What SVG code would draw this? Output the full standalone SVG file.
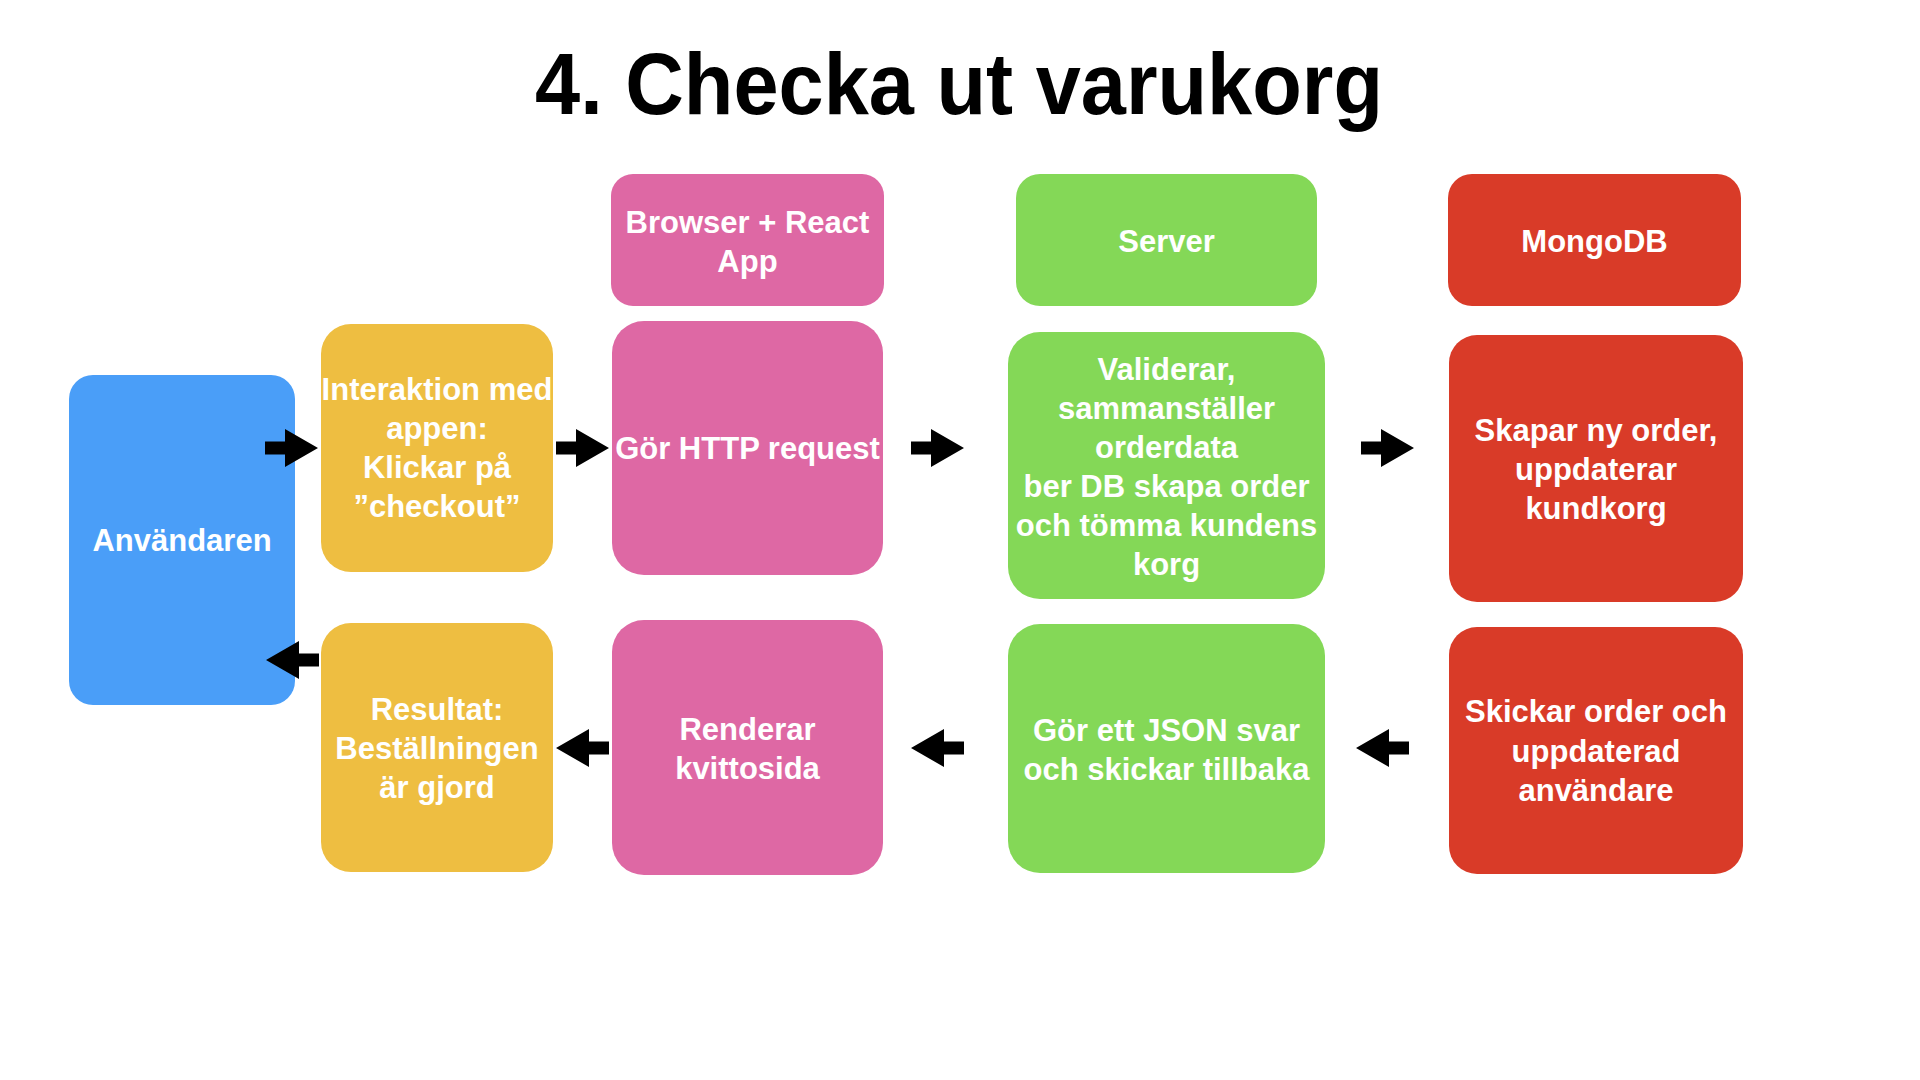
<svg xmlns="http://www.w3.org/2000/svg" xmlns:xlink="http://www.w3.org/1999/xlink" width="1920" height="1080" viewBox="0 0 1920 1080">
  <style>
    .title { font-family: "Liberation Sans", Arial, Helvetica, sans-serif; font-weight: bold; font-size: 87px; fill: #000; }
    .label { font-family: "Liberation Sans", Arial, Helvetica, sans-serif; font-weight: bold; font-size: 31px; fill: #fff; text-anchor: middle; }
    .user { fill: #4a9ef8; }
    .ui { fill: #eebe41; }
    .app { fill: #de68a4; }
    .srv { fill: #84d857; }
    .db { fill: #d93b28; }
    .arrow { fill: #000; }
  </style>
  <defs>
    <!-- block arrow pointing right, tip at origin -->
    <polygon id="arrow-r" points="-53,-6.5 -33,-6.5 -33,-19 0,0 -33,19 -33,6.5 -53,6.5"/>
  </defs>

  <rect width="1920" height="1080" fill="#fff"/>

  <text class="title" x="535" y="114" textLength="848" lengthAdjust="spacingAndGlyphs">4. Checka ut varukorg</text>

  <!-- column headers -->
  <g id="hdr-browser">
    <rect class="app" x="611" y="174" width="273" height="132" rx="22"/>
    <text class="label"><tspan x="747.5" y="233">Browser + React</tspan><tspan x="747.5" y="272">App</tspan></text>
  </g>
  <g id="hdr-server">
    <rect class="srv" x="1016" y="174" width="301" height="132" rx="24"/>
    <text class="label" x="1166.5" y="252">Server</text>
  </g>
  <g id="hdr-mongodb">
    <rect class="db" x="1448" y="174" width="293" height="132" rx="24"/>
    <text class="label" x="1594.5" y="252">MongoDB</text>
  </g>

  <!-- user -->
  <g id="user">
    <rect class="user" x="69" y="375" width="226" height="330" rx="24"/>
    <text class="label" x="182" y="551">Användaren</text>
  </g>

  <!-- request row -->
  <g id="interaction">
    <rect class="ui" x="321" y="324" width="232" height="248" rx="30"/>
    <text class="label"><tspan x="437" y="400">Interaktion med</tspan><tspan x="437" y="439">appen:</tspan><tspan x="437" y="478">Klickar på</tspan><tspan x="437" y="517">”checkout”</tspan></text>
  </g>
  <g id="http-request">
    <rect class="app" x="612" y="321" width="271" height="254" rx="32"/>
    <text class="label" x="747.5" y="459">Gör HTTP request</text>
  </g>
  <g id="validate">
    <rect class="srv" x="1008" y="332" width="317" height="267" rx="32"/>
    <text class="label"><tspan x="1166.5" y="380">Validerar,</tspan><tspan x="1166.5" y="419">sammanställer</tspan><tspan x="1166.5" y="458">orderdata</tspan><tspan x="1166.5" y="497">ber DB skapa order</tspan><tspan x="1166.5" y="536">och tömma kundens</tspan><tspan x="1166.5" y="575">korg</tspan></text>
  </g>
  <g id="create-order">
    <rect class="db" x="1449" y="335" width="294" height="267" rx="28"/>
    <text class="label"><tspan x="1596" y="441">Skapar ny order,</tspan><tspan x="1596" y="480">uppdaterar</tspan><tspan x="1596" y="519">kundkorg</tspan></text>
  </g>

  <!-- response row -->
  <g id="result">
    <rect class="ui" x="321" y="623" width="232" height="249" rx="30"/>
    <text class="label"><tspan x="437" y="720">Resultat:</tspan><tspan x="437" y="759">Beställningen</tspan><tspan x="437" y="798">är gjord</tspan></text>
  </g>
  <g id="render-receipt">
    <rect class="app" x="612" y="620" width="271" height="255" rx="32"/>
    <text class="label"><tspan x="747.5" y="740">Renderar</tspan><tspan x="747.5" y="779">kvittosida</tspan></text>
  </g>
  <g id="json-response">
    <rect class="srv" x="1008" y="624" width="317" height="249" rx="32"/>
    <text class="label"><tspan x="1166.5" y="741">Gör ett JSON svar</tspan><tspan x="1166.5" y="780">och skickar tillbaka</tspan></text>
  </g>
  <g id="send-order">
    <rect class="db" x="1449" y="627" width="294" height="247" rx="28"/>
    <text class="label"><tspan x="1596" y="722">Skickar order och</tspan><tspan x="1596" y="762">uppdaterad</tspan><tspan x="1596" y="801">användare</tspan></text>
  </g>

  <!-- connectors -->
  <g id="connectors" class="arrow">
    <use xlink:href="#arrow-r" transform="translate(318,448)"/>
    <use xlink:href="#arrow-r" transform="translate(609,448)"/>
    <use xlink:href="#arrow-r" transform="translate(964,448)"/>
    <use xlink:href="#arrow-r" transform="translate(1414,448)"/>
    <use xlink:href="#arrow-r" transform="translate(1356,748) scale(-1,1)"/>
    <use xlink:href="#arrow-r" transform="translate(911,748) scale(-1,1)"/>
    <use xlink:href="#arrow-r" transform="translate(556,748) scale(-1,1)"/>
    <use xlink:href="#arrow-r" transform="translate(266,660) scale(-1,1)"/>
  </g>
</svg>
